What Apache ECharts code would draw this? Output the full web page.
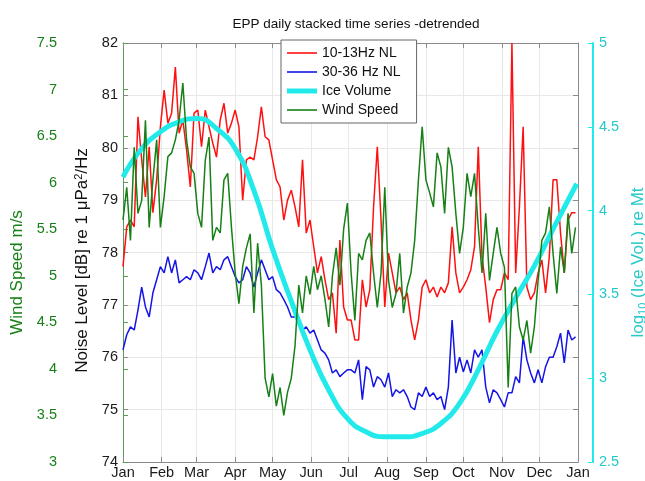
<!DOCTYPE html>
<html><head><meta charset="utf-8">
<script src="https://cdn.jsdelivr.net/npm/echarts@6/dist/echarts.min.js"></script>
<style>html,body{margin:0;padding:0;background:#fff}#c{width:645px;height:481px}</style>
</head><body><div id="c"></div>
<script>
const monthTicks = [0,31,59,90,120,151,181,212,243,273,304,334,365];
const monthLabels = ['Jan','Feb','Mar','Apr','May','Jun','Jul','Aug','Sep','Oct','Nov','Dec','Jan'];
const seriesNames = ['10-13Hz NL','30-36 Hz NL','Ice Volume','Wind Speed'];

const sampleDays = [0,3,6,9,12,15,18,21,24,27,30,33,36,39,42,45,48,51,54,57,60,63,66,69,72,75,78,81,84,87,90,
93,96,99,102,105,108,111,114,117,120,123,126,129,132,135,138,141,144,147,150,153,156,159,162,165,168,171,174,177,180,
183,186,189,192,195,198,201,204,207,210,213,216,219,222,225,228,231,234,237,240,243,246,249,252,255,258,261,264,267,270,
273,276,279,282,285,288,291,294,297,300,303,306,309,312,315,318,321,324,327,330,333,336,339,342,345,348,351,354,357,360,363];

const nl1013 = [77.73,78.49,78.62,78.49,80.59,79.77,79.06,80.02,78.76,79.39,80.40,81.10,80.47,80.66,81.54,80.28,80.53,79.96,79.25,80.66,80.72,80.02,80.72,80.40,80.09,79.82,80.53,80.85,80.28,80.47,80.72,
80.40,79.00,79.77,79.82,79.77,80.21,80.78,80.21,80.15,79.77,79.39,79.25,78.62,79.00,79.19,78.87,78.49,79.77,78.37,78.62,78.11,77.61,77.92,77.48,77.10,77.23,76.46,78.24,76.96,76.71,
76.71,76.33,76.33,77.48,76.96,77.29,78.87,80.02,78.62,76.96,77.99,77.61,77.23,77.34,77.10,77.23,76.71,76.33,76.71,77.34,77.48,77.23,77.34,77.15,77.34,77.23,77.42,78.49,77.61,77.23,
77.34,77.48,77.67,78.11,80.02,77.92,77.34,76.66,77.10,77.29,77.29,77.61,77.48,82.00,77.61,78.87,80.40,77.34,77.10,77.23,77.61,77.86,77.23,77.92,79.39,79.39,78.37,77.61,78.62,78.76,78.76];

const nl3036 = [76.14,76.43,76.58,76.52,76.90,77.34,76.96,76.77,77.23,77.48,77.73,77.61,77.92,77.61,77.86,77.42,77.48,77.54,77.48,77.67,77.61,77.48,77.73,77.99,77.61,77.73,77.67,77.86,77.92,77.73,77.54,
77.42,77.48,77.73,77.61,77.34,77.61,77.86,77.67,77.48,77.54,77.29,77.23,77.10,76.96,76.77,76.77,76.66,76.52,76.58,76.46,76.52,76.33,76.14,76.08,75.95,75.70,75.76,75.63,75.70,75.76,
75.76,75.70,75.95,75.19,75.82,75.76,75.43,75.63,75.57,75.43,75.70,75.25,75.38,75.32,75.38,75.25,75.05,75.00,75.32,75.25,75.43,75.25,75.32,75.19,75.25,75.00,75.43,76.71,75.70,76.00,
75.72,75.95,75.70,76.14,76.00,76.14,75.43,75.13,75.38,75.32,75.19,75.05,75.32,75.32,75.63,75.51,76.39,75.95,75.70,75.51,75.76,75.51,75.82,76.00,76.00,76.20,76.46,75.89,76.52,76.33,76.39];

const windSpeed = [5.60,5.95,5.38,6.38,5.67,5.81,6.67,5.52,6.03,6.46,5.52,5.85,6.28,6.32,6.46,6.67,7.07,6.46,6.17,6.10,5.67,5.52,6.24,6.49,5.38,5.52,5.46,6.03,6.10,5.52,5.03,
4.70,5.10,5.30,5.45,4.60,5.35,4.90,3.90,3.70,3.95,3.60,3.80,3.50,3.75,3.90,4.25,4.90,4.60,5.00,4.80,5.10,4.85,5.00,4.75,4.45,5.00,5.30,4.90,5.50,5.78,
5.03,4.52,5.24,5.17,5.38,5.46,5.03,4.66,5.03,5.95,4.95,4.66,4.81,5.24,4.60,4.88,5.03,5.38,6.03,6.60,6.03,5.89,5.74,6.32,6.17,5.67,6.38,6.17,5.67,5.24,
5.52,6.10,5.85,6.10,5.52,5.03,5.67,4.95,5.24,5.52,5.24,5.09,3.80,4.81,4.88,4.45,4.31,4.52,4.17,4.45,4.95,5.38,5.46,5.74,5.24,4.81,5.31,5.03,5.67,5.24,5.52];

const iceDays = [0,14,30,45,60,75,90,105,120,135,150,165,180,195,210,225,240,255,270,285,300,315,330,345,364];
const iceVolume = [4.20,4.36,4.47,4.53,4.55,4.49,4.37,4.12,3.77,3.46,3.17,2.93,2.76,2.68,2.65,2.65,2.67,2.73,2.85,3.05,3.28,3.48,3.67,3.89,4.16];

const FONT = 'Liberation Sans, Arial, sans-serif';
const AX = '#8a8a8a';
const RED = '#ff1010', BLUE = '#1414e6';
const GREEN = '#168016', CYAN = '#22eaea', CYANTXT = '#25c9c9';

const pair = (xs, ys) => xs.map((x, i) => [x, ys[i]]);
const thinIcon = 'path://M0,0h30v1.6h-30z';
const thickIcon = 'path://M0,0h30v5h-30z';

const chart = echarts.init(document.getElementById('c'), null, {renderer:'canvas'});
chart.setOption({
  animation:false,
  backgroundColor:'#fff',
  textStyle:{fontFamily:FONT},
  title:{text:'EPP daily stacked time series -detrended', left:351, top:12, textAlign:'center',
    textStyle:{fontSize:13.5, fontWeight:'normal', color:'#111', fontFamily:FONT}},
  legend:{orient:'vertical', left:281, top:40, padding:[6,16,6,6], itemGap:5, itemWidth:30, itemHeight:14,
    backgroundColor:'#fff', borderColor:'#666', borderWidth:1,
    textStyle:{fontSize:14, color:'#111', fontFamily:FONT},
    data:[
      {name:seriesNames[0], icon:thinIcon, itemStyle:{color:RED}},
      {name:seriesNames[1], icon:thinIcon, itemStyle:{color:BLUE}},
      {name:seriesNames[2], icon:thickIcon, itemStyle:{color:CYAN}},
      {name:seriesNames[3], icon:thinIcon, itemStyle:{color:GREEN}}
    ]},
  grid:{left:123, right:67, top:43, bottom:19, outerBoundsMode:'none', containLabel:false},
  xAxis:[
    {type:'value', min:0, max:365, position:'bottom',
     axisLine:{lineStyle:{color:AX}},
     axisTick:{inside:true, length:5, customValues:monthTicks, lineStyle:{color:AX}},
     axisLabel:{customValues:monthTicks, formatter:v => monthLabels[monthTicks.indexOf(v)], fontSize:14.5, color:'#1a1a1a', margin:3, fontFamily:FONT},
     splitLine:{show:true, lineStyle:{color:'#e8e8e8'}}},
    {type:'value', min:0, max:365, position:'top',
     axisLine:{lineStyle:{color:AX}},
     axisTick:{inside:true, length:5, customValues:monthTicks, lineStyle:{color:AX}},
     axisLabel:{show:false}, splitLine:{show:false}}
  ],
  yAxis:[
    {type:'value', min:74, max:82, interval:1, position:'left',
     name:'Noise Level [dB] re 1 μPa{sup|2}/Hz', nameLocation:'middle', nameGap:26, nameRotate:90,
     nameTextStyle:{fontSize:17, color:'#111', fontFamily:FONT, padding:[0,16,0,0], rich:{sup:{fontSize:11, verticalAlign:'top', padding:[0,0,8,0], color:'#111'}}},
     axisLine:{show:true, lineStyle:{color:AX}},
     axisTick:{inside:true, length:5, lineStyle:{color:AX}},
     axisLabel:{fontSize:14.5, color:'#1a1a1a', margin:5, fontFamily:FONT},
     splitLine:{show:true, lineStyle:{color:'#e8e8e8'}}},
    {type:'value', min:3, max:7.5, interval:0.5, position:'left', offset:61,
     name:'Wind Speed m/s', nameLocation:'middle', nameGap:36, nameRotate:90,
     nameTextStyle:{fontSize:17, color:GREEN, fontFamily:FONT, padding:[0,40,0,0]},
     axisLine:{show:true, lineStyle:{color:'#5a9a5a'}},
     axisTick:{inside:true, length:5, lineStyle:{color:'#5a9a5a'}},
     axisLabel:{fontSize:14.5, color:GREEN, margin:5, fontFamily:FONT},
     splitLine:{show:false}},
    {type:'value', min:2.5, max:5, interval:0.5, position:'right', offset:15,
     name:'log{sub|10} (Ice Vol.) re Mt', nameLocation:'middle', nameGap:34, nameRotate:90,
     nameTextStyle:{fontSize:17, color:CYANTXT, fontFamily:FONT, padding:[0,20,0,0], rich:{sub:{fontSize:11, color:CYANTXT, verticalAlign:'bottom', padding:[8,0,0,0]}}},
     axisLine:{show:true, lineStyle:{color:CYAN, width:2}},
     axisTick:{inside:true, length:5, lineStyle:{color:CYAN}},
     axisLabel:{fontSize:14.5, color:CYANTXT, margin:6, fontFamily:FONT},
     splitLine:{show:false}},
    {type:'value', min:74, max:82, interval:1, position:'right',
     axisLine:{show:true, lineStyle:{color:AX}},
     axisTick:{inside:true, length:5, lineStyle:{color:AX}},
     axisLabel:{show:false}, splitLine:{show:false}}
  ],
  series:[
    {name:seriesNames[0], type:'line', yAxisIndex:0, symbol:'none', data:pair(sampleDays, nl1013),
     lineStyle:{color:RED, width:1.5}, itemStyle:{color:RED}},
    {name:seriesNames[1], type:'line', yAxisIndex:0, symbol:'none', data:pair(sampleDays, nl3036),
     lineStyle:{color:BLUE, width:1.5}, itemStyle:{color:BLUE}},
    {name:seriesNames[2], type:'line', yAxisIndex:2, symbol:'none', smooth:true, data:pair(iceDays, iceVolume),
     lineStyle:{color:CYAN, width:5}, itemStyle:{color:CYAN}},
    {name:seriesNames[3], type:'line', yAxisIndex:1, symbol:'none', data:pair(sampleDays, windSpeed),
     lineStyle:{color:GREEN, width:1.5}, itemStyle:{color:GREEN}}
  ]
});
</script></body></html>
